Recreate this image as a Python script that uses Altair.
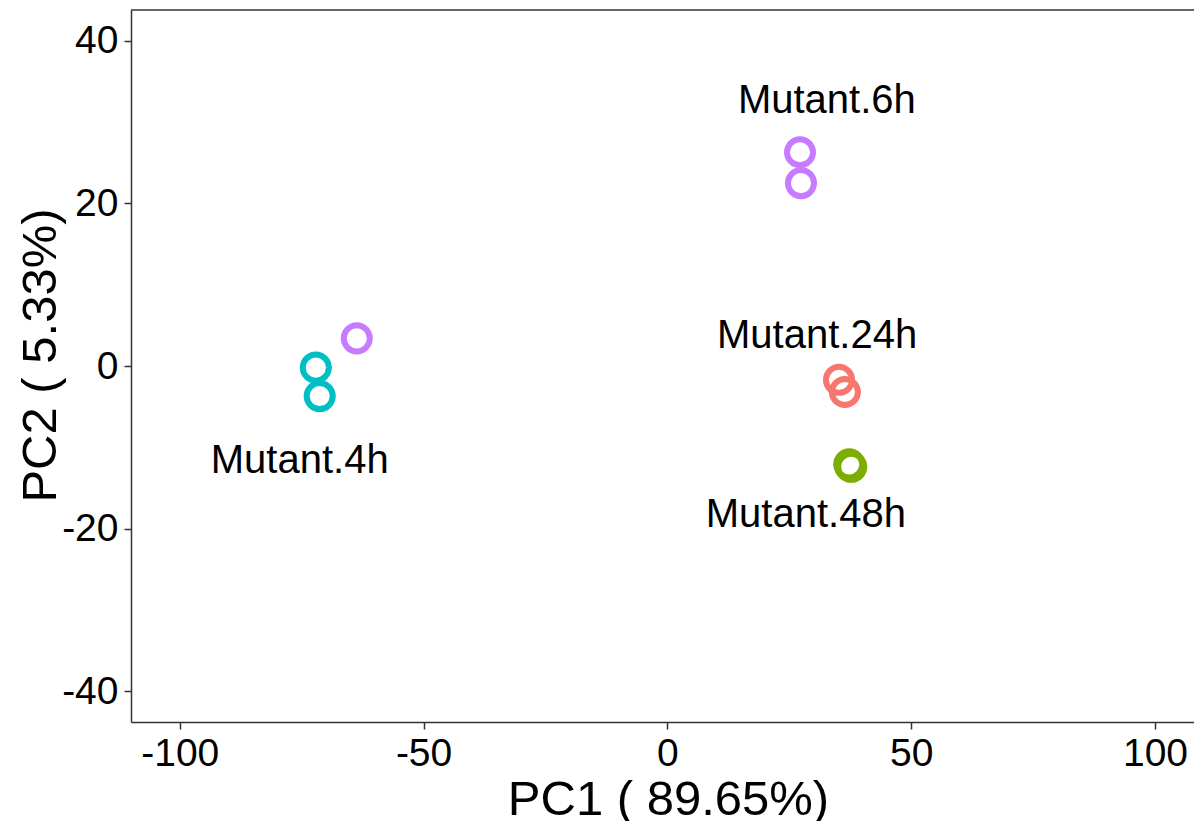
import altair as alt
import pandas as pd

# Sample points (PC1, PC2) by group
groups = ["Mutant.6h", "Mutant.6h", "Mutant.6h",
          "Mutant.4h", "Mutant.4h",
          "Mutant.24h", "Mutant.24h",
          "Mutant.48h", "Mutant.48h", "Mutant.48h"]
pc1 = [27.2, 27.4, -63.7, -72.1, -71.3, 35.2, 36.4, 37.3, 37.7, 37.5]
pc2 = [26.3, 22.5, 3.4, -0.2, -3.7, -1.7, -3.2, -12.1, -12.4, -12.3]

# Group labels
label_text = ["Mutant.6h", "Mutant.24h", "Mutant.4h", "Mutant.48h"]
label_x = [32.7, 30.7, -75.4, 28.4]
label_y = [32.6, 3.7, -11.7, -18.3]

color_domain = ["Mutant.24h", "Mutant.48h", "Mutant.4h", "Mutant.6h"]
color_range = ["#F8766D", "#7CAE00", "#00BFC4", "#C77CFF"]

x_ticks = [-100, -50, 0, 50, 100]
y_ticks = [-40, -20, 0, 20, 40]

W, H = 1063, 712
FONT = "Liberation Sans"

pts = pd.DataFrame({"group": groups, "PC1": pc1, "PC2": pc2})
labs = pd.DataFrame({"label": label_text, "x": label_x, "y": label_y})

xscale = alt.Scale(domain=[-110, 108], nice=False, zero=False)
yscale = alt.Scale(domain=[-43.8, 43.8], nice=False, zero=False)

points = alt.Chart(pts).mark_point(
    shape="circle", filled=False, size=680, strokeWidth=6, opacity=1
).encode(
    x=alt.X("PC1:Q", scale=xscale,
            axis=alt.Axis(values=x_ticks, title="PC1 ( 89.65%)", grid=False,
                          labelExpr="'' + datum.value",
                          titleY=92, titleX=537, titleBaseline="alphabetic")),
    y=alt.Y("PC2:Q", scale=yscale,
            axis=alt.Axis(values=y_ticks, title="PC2 ( 5.33%)", grid=False,
                          labelExpr="'' + datum.value",
                          titleAngle=270, titleX=-76, titleY=345,
                          titleBaseline="alphabetic", titleAlign="center")),
    color=alt.Color("group:N", scale=alt.Scale(domain=color_domain, range=color_range),
                    legend=None),
)

texts = alt.Chart(labs).mark_text(
    font=FONT, fontSize=40, color="black", baseline="middle", align="center"
).encode(
    x=alt.X("x:Q", scale=xscale),
    y=alt.Y("y:Q", scale=yscale),
    text="label:N",
)

top_border = alt.Chart(pd.DataFrame({"a": [0]})).mark_rule(
    color="#333333", strokeWidth=1.5
).encode(x=alt.value(0), x2=alt.value(W), y=alt.value(0))

chart = alt.layer(points, texts, top_border).properties(
    width=W, height=H,
    autosize=alt.AutoSizeParams(type="none"),
    padding={"left": 131, "top": 10, "right": 0, "bottom": 99},
).configure_view(stroke=None).configure_axis(
    labelFont=FONT, titleFont=FONT, labelFontSize=39, titleFontSize=49,
    labelColor="black", titleColor="black", titleFontWeight="normal",
    domainColor="#333333", domainWidth=1.5, tickColor="#333333", tickWidth=1.5,
    tickSize=7, labelPadding=5,
).configure_axisY(labelPadding=6)

chart.save("out.html", embed_options={"renderer": "svg", "actions": False})
